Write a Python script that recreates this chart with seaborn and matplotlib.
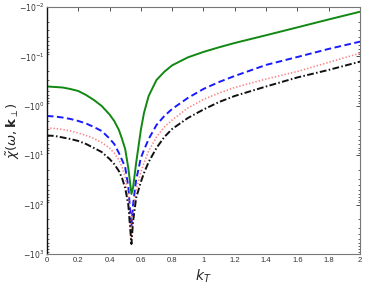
import numpy as np
import pandas as pd
import matplotlib
matplotlib.use("Agg")
import matplotlib.pyplot as plt
import seaborn as sns
from matplotlib.ticker import FixedLocator, LogLocator, NullFormatter

sns.set_style("white")
plt.rcParams['font.family'] = ['Liberation Sans', 'DejaVu Sans']
plt.rcParams['mathtext.fontset'] = 'dejavusans'

# magnitudes |chi|; the axis shows them as negative values -10^n
k = [0.0, 0.05, 0.1, 0.15, 0.2, 0.25, 0.3, 0.35, 0.4, 0.43, 0.46, 0.48, 0.5,
     0.52, 0.54, 0.55, 0.57, 0.6, 0.62, 0.65, 0.7, 0.75, 0.8, 0.9, 1.0, 1.1,
     1.2, 1.4, 1.6, 1.8, 2.0]
green = [0.407, 0.417, 0.427, 0.458, 0.502, 0.605, 0.763, 1.01, 1.50, 2.03,
         3.09, 4.70, 7.5, 18.2, 61, 46.1, 14.4, 3.09, 1.40, 0.633, 0.301,
         0.205, 0.152, 0.105, 0.0814, 0.0655, 0.0536, 0.0374, 0.0259, 0.0179,
         0.0125]
blue = [1.61, 1.65, 1.73, 1.85, 2.03, 2.28, 2.69, 3.24, 4.59, 5.93, 9.03,
        12.5, 17.4, 44, 284, 102, 31.8, 11.4, 7.85, 4.70, 2.45, 1.61, 1.16,
        0.695, 0.457, 0.330, 0.249, 0.149, 0.103, 0.0707, 0.0504]
pink = [2.81, 2.88, 3.02, 3.24, 3.55, 3.99, 4.59, 5.53, 7.14, 9.03, 12.5,
        17.4, 27.7, 66.9, 521, 162, 50.6, 22.0, 14.4, 8.22, 4.28, 2.69, 1.94,
        1.11, 0.745, 0.551, 0.426, 0.287, 0.202, 0.132, 0.0864]
black = [3.99, 4.08, 4.38, 4.70, 5.15, 5.93, 7.14, 8.62, 11.9, 15.1, 21.0,
         29.0, 46.1, 101, 628, 225, 73.5, 34.9, 23.0, 13.7, 7.14, 4.28, 2.95,
         1.77, 1.19, 0.838, 0.633, 0.407, 0.267, 0.188, 0.128]

xticks = [0, 0.2, 0.4, 0.6, 0.8, 1, 1.2, 1.4, 1.6, 1.8, 2]
xticklabels = ['0', '0.2', '0.4', '0.6', '0.8', '1', '1.2', '1.4', '1.6', '1.8', '2']
ydecades = [-2, -1, 0, 1, 2, 3]

df = pd.DataFrame({'k': k, 'green': green, 'blue': blue, 'pink': pink, 'black': black})

fig = plt.figure(figsize=(3.66, 2.88), dpi=100)
ax = fig.add_axes([0.128, 0.118, 0.856, 0.858])

styles = [
    ('green', '#118811', '-', 1.4),
    ('blue', '#1a1aff', (0, (3.4, 1.8)), 1.4),
    ('pink', '#ff8080', (0, (0.8, 1.2)), 1.2),
    ('black', '#111111', (0, (3.5, 1.2, 0.8, 1.2)), 1.4),
]
for col, c, ls, lw in styles:
    sns.lineplot(data=df, x='k', y=col, ax=ax, color=c, linestyle=ls, linewidth=lw)

ax.set_yscale('log')
ax.set_ylim(1e3, 1e-2)
ax.set_xlim(0, 2)
ax.yaxis.set_major_locator(FixedLocator([10.0 ** d for d in ydecades]))
ax.set_yticklabels([r'$-10^{%d}$' % d for d in ydecades])
ax.yaxis.set_minor_locator(LogLocator(base=10, subs=np.arange(2, 10), numticks=20))
ax.yaxis.set_minor_formatter(NullFormatter())
ax.set_xticks(xticks)
ax.set_xticklabels(xticklabels)

ax.tick_params(axis='both', which='major', direction='in', length=3, width=0.6,
               labelsize=5.5, colors='#333333', top=True, right=True, pad=2)
ax.tick_params(axis='y', which='minor', direction='in', length=1.6, width=0.5,
               left=True, right=True)
for s in ['top', 'right', 'bottom']:
    ax.spines[s].set_color('#777777')
    ax.spines[s].set_linewidth(0.8)
ax.spines['left'].set_color('#111111')
ax.spines['left'].set_linewidth(1.0)

ax.set_xlabel(r'$k_T$', fontsize=10, labelpad=3)
ax.set_ylabel(r'$\tilde{\chi}(\omega,\mathbf{k}_{\perp})$', fontsize=9.5)
ax.yaxis.set_label_coords(-0.078, 0.5)

fig.savefig('out.png', dpi=100)
